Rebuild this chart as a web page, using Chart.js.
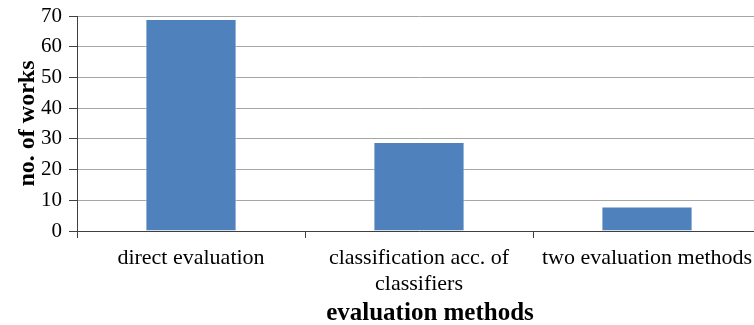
<!DOCTYPE html>
<html>
<head>
<meta charset="utf-8">
<script src="https://cdn.jsdelivr.net/npm/chart.js@4/dist/chart.umd.min.js"></script>
<style>
  html, body { margin: 0; padding: 0; background: #fff; overflow: hidden; }
  #wrap { width: 762px; height: 325px; }
</style>
</head>
<body>
<div id="wrap"><canvas id="c" width="762" height="325"></canvas></div>
<script>
// Number of works per evaluation method
const categories = [
  'direct evaluation',
  ['classification acc. of', 'classifiers'],
  'two evaluation methods'
];
const works = [69, 29, 8];
const yTicks = { min: 0, max: 70, step: 10 };
const xTitle = 'evaluation methods';
const yTitle = 'no. of works';

const serif = "'Liberation Serif', 'Times New Roman', serif";

// Horizontal axis caption, set a little right of the plot centre
const xTitlePlugin = {
  id: 'xTitle',
  afterDraw(chart) {
    const { ctx, chartArea } = chart;
    ctx.save();
    ctx.font = "bold 25px " + serif;
    ctx.fillStyle = '#000';
    ctx.textAlign = 'center';
    ctx.textBaseline = 'alphabetic';
    ctx.fillText(xTitle, (chartArea.left + chartArea.right) / 2 + 11, chart.height - 5);
    ctx.restore();
  }
};

new Chart(document.getElementById('c'), {
  type: 'bar',
  data: {
    labels: categories,
    datasets: [{
      data: works,
      backgroundColor: '#4F81BD',
      borderColor: 'rgba(255,255,255,0.55)',
      borderWidth: 1,
      categoryPercentage: 1,
      barPercentage: 0.4
    }]
  },
  plugins: [xTitlePlugin],
  options: {
    responsive: false,
    animation: false,
    layout: { padding: { top: 16, right: 1, left: 0, bottom: 0 } },
    plugins: { legend: { display: false }, tooltip: { enabled: false } },
    scales: {
      x: {
        afterFit: s => { s.height = 94; },
        grid: {
          offset: true,
          drawOnChartArea: false,
          color: '#404040',
          tickLength: 7
        },
        border: { color: '#404040', width: 1 },
        ticks: {
          color: '#000',
          font: { family: serif, size: 22, lineHeight: 1.15 },
          padding: 8,
          maxRotation: 0,
          autoSkip: false
        }
      },
      y: {
        min: yTicks.min,
        max: yTicks.max,
        afterFit: s => { s.width = 77; },
        grid: {
          color: '#a6a6a6',
          tickColor: '#404040',
          tickLength: 8
        },
        border: { color: '#404040', width: 1 },
        ticks: {
          stepSize: yTicks.step,
          color: '#000',
          font: { family: serif, size: 21, lineHeight: 0.8 },
          padding: 7
        },
        title: {
          display: true,
          text: yTitle,
          color: '#000',
          font: { family: serif, size: 24, weight: 'bold' },
          padding: { top: 13, bottom: 0 }
        }
      }
    }
  }
});
</script>
</body>
</html>
